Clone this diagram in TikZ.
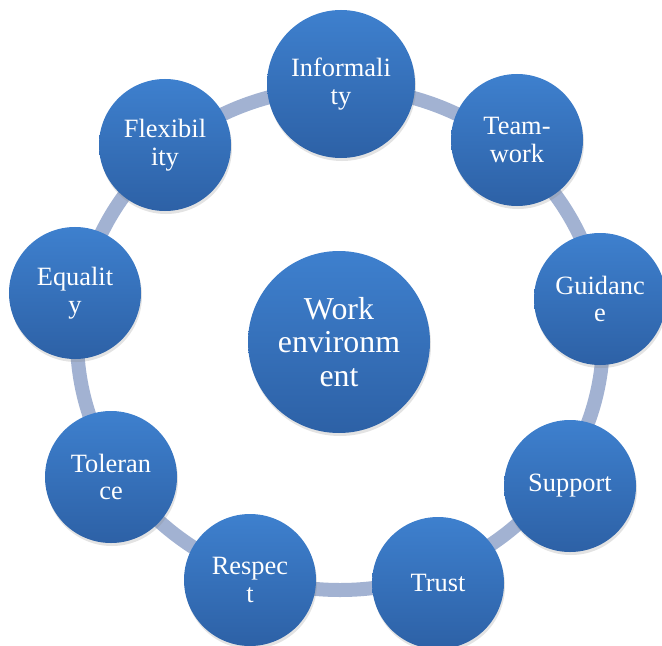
\documentclass[tikz,border=0pt]{standalone}
\usepackage{fontspec}
\setmainfont{Liberation Serif}
\newfontfamily\timesface{Liberation Serif}
\usepackage{tikz}
\usetikzlibrary{positioning, shadows}

\definecolor{ballTop}{RGB}{62,128,206}
\definecolor{ballBot}{RGB}{45,97,166}
\definecolor{ringBlue}{RGB}{162,178,210}

\tikzset{
  ball/.style={circle, inner sep=0pt, align=center, text=white,
    top color=ballTop, bottom color=ballBot,
    drop shadow={opacity=0.22, shadow xshift=1bp, shadow yshift=-3bp}},
  item/.style={ball, minimum size=132bp, font=\timesface\fontsize{26.5}{28}\selectfont},
  hub/.style={ball, minimum size=182bp, font=\timesface\fontsize{32}{34}\selectfont},
  ring/.style={draw=ringBlue, line width=14bp}
}

\begin{document}
\begin{tikzpicture}[x=1bp, y={(0,-1bp)}]
\useasboundingbox (0,0) rectangle (662,646);
\clip (0,0) rectangle (662,646);

% Ring behind the circles
\coordinate (ringc) at (340,339);
\draw[ring] (ringc) ellipse [x radius=263, y radius=251];

% Centre
\node[hub] (work) at (339,342) {Work\\environm\\ent};

% Outer circles
\node[item, minimum size=148bp] (informality) at (341,84) {Informali\\ty};
\foreach \x/\y/\name/\word in {517/140/teamwork/{Team-\\work},
    600/299/guidance/{Guidanc\\e}, 570/486/support/{Support},
    438/583/trust/{Trust}, 250/580/respect/{Respec\\t},
    111/477/tolerance/{Toleran\\ce}, 75/293/equality/{Equalit\\y},
    165/145/flexibility/{Flexibil\\ity}} {
  \node[item] (\name) at (\x,\y) {\word};
}
\end{tikzpicture}
\end{document}
